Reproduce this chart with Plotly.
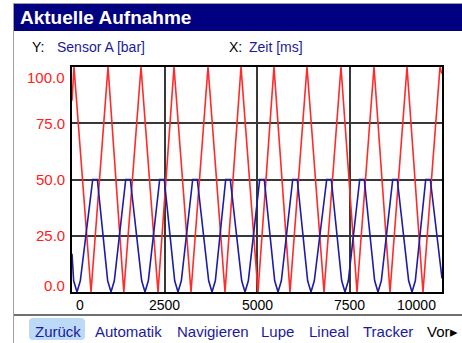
import plotly.graph_objects as go

# ---- data ----
red_x = [0, 54, 514, 973, 1400, 1865, 2324, 2757, 3216, 3676, 4135, 4568,
         5027, 5459, 5892, 6351, 6811, 7270, 7703, 8162, 8595, 9054, 9486, 9946, 10000]
red_y = [85, 100, 0, 100, 0, 100, 0, 100, 0, 100, 0, 100,
         0, 100, 0, 100, 0, 100, 0, 100, 0, 100, 0, 100, 97]

blue_x = [0, 45, 135, 225, 560, 685, 964, 1054, 1144, 1452, 1576, 1883, 1973, 2063,
          2370, 2494, 2775, 2865, 2955, 3262, 3386, 3694, 3784, 3874, 4154, 4278,
          4586, 4676, 4766, 5073, 5197, 5478, 5568, 5658, 5965, 6089, 6369, 6459,
          6549, 6884, 7008, 7288, 7378, 7468, 7776, 7900, 8180, 8270, 8360, 8668,
          8792, 9099, 9189, 9279, 9560, 9684, 10000]
blue_y = [17, 5, 0, 5, 50, 50, 5, 0, 5, 50, 50, 5, 0, 5,
          50, 50, 5, 0, 5, 50, 50, 5, 0, 5, 50, 50,
          5, 0, 5, 50, 50, 5, 0, 5, 50, 50, 5, 0,
          5, 50, 50, 5, 0, 5, 50, 50, 5, 0, 5, 50,
          50, 5, 0, 5, 50, 50, 6]

x_tick_vals = [0, 2500, 5000, 7500, 10000]
x_tick_text = ["0", "2500", "5000", "7500", "10000"]
y_tick_vals = [0, 25, 50, 75, 100]
y_tick_text = ["0.0", "25.0", "50.0", "75.0", "100.0"]

title_text = "Aktuelle Aufnahme"
y_label = "Sensor A [bar]"
x_label = "Zeit [ms]"
menu_items = ["Zurück", "Automatik", "Navigieren", "Lupe", "Lineal", "Tracker"]
menu_left_px = [33, 93, 175, 259, 307, 361]

# ---- layout helpers (pixel -> paper) ----
L, R, T, B = 72, 442, 67, 292
W, H = 462, 343
def px(x):
    return (x - L) / (R - L)
def py(y):
    return (B - y) / (B - T)

FONT = "Liberation Sans, Arial, sans-serif"
NAVY = "#1a1a9a"

fig = go.Figure()
fig.add_trace(go.Scatter(x=red_x, y=red_y, mode="lines",
                         line=dict(color="#ff2a2a", width=1.6), hoverinfo="skip"))
fig.add_trace(go.Scatter(x=blue_x, y=blue_y, mode="lines",
                         line=dict(color="#1c1ca8", width=1.6), hoverinfo="skip"))

shapes = []
# title bar
shapes.append(dict(type="rect", xref="paper", yref="paper",
                   x0=px(14), x1=px(463), y0=py(31), y1=py(4),
                   fillcolor="#000080", line=dict(width=0), layer="below"))
# top gray line
shapes.append(dict(type="line", xref="paper", yref="paper",
                   x0=px(14), x1=px(463), y0=py(3.5), y1=py(3.5),
                   line=dict(color="#a0a0a0", width=1)))
# left border line
shapes.append(dict(type="line", xref="paper", yref="paper",
                   x0=px(13.5), x1=px(13.5), y0=py(3), y1=py(344),
                   line=dict(color="#a0a0a0", width=1)))
# separator above menu
shapes.append(dict(type="line", xref="paper", yref="paper",
                   x0=px(14), x1=px(463), y0=py(315), y1=py(315),
                   line=dict(color="#404040", width=1.5)))
# Zurück highlight (rounded rect)
x0, x1, y0, y1, r = 29, 85, 318, 340, 4
path = (f"M {px(x0+r)},{py(y0)} L {px(x1-r)},{py(y0)} Q {px(x1)},{py(y0)} {px(x1)},{py(y0+r)} "
        f"L {px(x1)},{py(y1-r)} Q {px(x1)},{py(y1)} {px(x1-r)},{py(y1)} "
        f"L {px(x0+r)},{py(y1)} Q {px(x0)},{py(y1)} {px(x0)},{py(y1-r)} "
        f"L {px(x0)},{py(y0+r)} Q {px(x0)},{py(y0)} {px(x0+r)},{py(y0)} Z")
shapes.append(dict(type="path", xref="paper", yref="paper", path=path,
                   fillcolor="#bcd9f7", line=dict(width=0), layer="below"))

ann = []
ann.append(dict(text=f"<b>{title_text}</b>", x=px(18), y=py(18), xref="paper", yref="paper",
                xanchor="left", yanchor="middle", showarrow=False,
                font=dict(family=FONT, size=19, color="white")))
ann.append(dict(text="Y:", x=px(30), y=py(47), xref="paper", yref="paper",
                xanchor="left", yanchor="middle", showarrow=False,
                font=dict(family=FONT, size=14, color="black")))
ann.append(dict(text=y_label, x=px(55), y=py(47), xref="paper", yref="paper",
                xanchor="left", yanchor="middle", showarrow=False,
                font=dict(family=FONT, size=14, color=NAVY)))
ann.append(dict(text="X:", x=px(227), y=py(47), xref="paper", yref="paper",
                xanchor="left", yanchor="middle", showarrow=False,
                font=dict(family=FONT, size=14, color="black")))
ann.append(dict(text=x_label, x=px(247), y=py(47), xref="paper", yref="paper",
                xanchor="left", yanchor="middle", showarrow=False,
                font=dict(family=FONT, size=14, color=NAVY)))

# y tick labels
y_shift = {0: 7, 100: -10}
for v, t in zip(y_tick_vals, y_tick_text):
    ann.append(dict(text=t, x=px(67), y=v, xref="paper", yref="y",
                    xanchor="right", yanchor="middle", showarrow=False,
                    yshift=y_shift.get(v, 0),
                    font=dict(family=FONT, size=15, color="#ff2020")))
# x tick labels
for v, t in zip(x_tick_vals, x_tick_text):
    if v == x_tick_vals[0]:
        anchor, xs = "left", 2
    elif v == x_tick_vals[-1]:
        anchor, xs = "right", -4
    else:
        anchor, xs = "center", 0
    ann.append(dict(text=t, x=v, y=py(305), xref="x", yref="paper",
                    xanchor=anchor, yanchor="middle", showarrow=False, xshift=xs,
                    font=dict(family=FONT, size=14, color="black")))
# menu
for t, lx in zip(menu_items, menu_left_px):
    ann.append(dict(text=t, x=px(lx), y=py(331), xref="paper", yref="paper",
                    xanchor="left", yanchor="middle", showarrow=False,
                    font=dict(family=FONT, size=15, color=NAVY)))
ann.append(dict(text="Vor\u25B8", x=px(425), y=py(331), xref="paper", yref="paper",
                xanchor="left", yanchor="middle", showarrow=False,
                font=dict(family=FONT, size=15, color="black")))

fig.update_layout(
    width=W, height=H,
    margin=dict(l=L, r=W - R, t=T, b=H - B, pad=0),
    paper_bgcolor="white", plot_bgcolor="white",
    showlegend=False,
    shapes=shapes, annotations=ann,
    xaxis=dict(range=[0, 10000], tickvals=x_tick_vals[1:-1], showticklabels=False,
               ticks="", showgrid=True, gridcolor="#383838", gridwidth=1.5,
               zeroline=False, showline=True, linecolor="black", linewidth=1.5, mirror=True),
    yaxis=dict(range=[0, 100], tickvals=y_tick_vals[1:-1], showticklabels=False,
               ticks="", showgrid=True, gridcolor="#383838", gridwidth=1.5,
               zeroline=False, showline=True, linecolor="black", linewidth=1.5, mirror=True),
)
fig.write_html("out.html", config={"displayModeBar": False},
               post_script="document.body.style.margin='0px';document.body.style.overflow='hidden';")
